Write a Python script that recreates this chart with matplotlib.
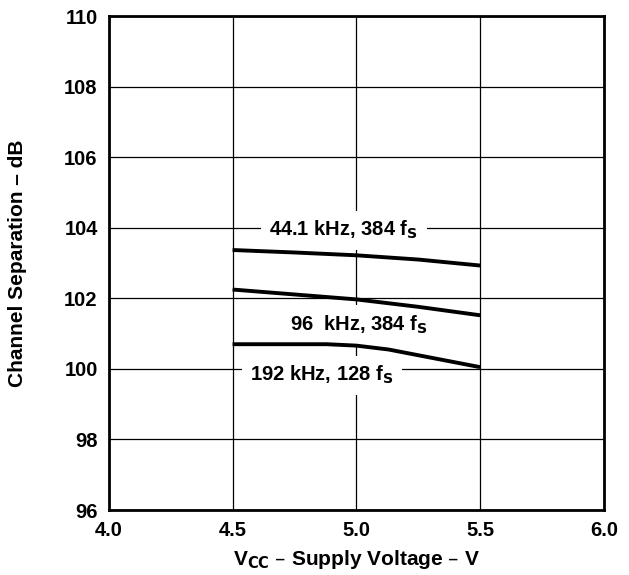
import matplotlib
matplotlib.use('Agg')
import matplotlib.pyplot as plt

# === Data ===
vcc = [4.5, 4.75, 5.0, 5.25, 5.5]
sep_44k = [103.37, 103.30, 103.22, 103.10, 102.93]
sep_96k = [102.25, 102.11, 101.97, 101.76, 101.52]
vcc_192 = [4.5, 4.88, 5.0, 5.13, 5.5]
sep_192k = [100.70, 100.70, 100.66, 100.55, 100.05]

x_ticks = [4.0, 4.5, 5.0, 5.5, 6.0]
y_ticks = [96, 98, 100, 102, 104, 106, 108, 110]

plt.rcParams['font.family'] = ['Liberation Sans', 'DejaVu Sans']
plt.rcParams['font.weight'] = 'bold'

fig = plt.figure(figsize=(6.29, 5.75), dpi=100)
ax = fig.add_axes([0.173, 0.113, 0.787, 0.859])

# curves above the label boxes, label boxes above the grid
ax.plot(vcc, sep_44k, color='black', lw=2.8, solid_capstyle='butt', zorder=3)
ax.plot(vcc, sep_96k, color='black', lw=2.8, solid_capstyle='butt', zorder=3)
ax.plot(vcc_192, sep_192k, color='black', lw=2.8, solid_capstyle='butt', zorder=3)

box = dict(facecolor='white', edgecolor='none', pad=6)
fs = 14.5
ax.text(4.95, 103.93, '44.1 kHz, 384 f$_\\mathbf{S}$', ha='center', va='center',
        fontsize=fs, fontweight='bold', bbox=box, zorder=2)
ax.text(5.01, 101.25, '96  kHz, 384 f$_\\mathbf{S}$', ha='center', va='center',
        fontsize=fs, fontweight='bold', bbox=box, zorder=2)
ax.text(4.86, 99.82, '192 kHz, 128 f$_\\mathbf{S}$', ha='center', va='center',
        fontsize=fs, fontweight='bold', bbox=box, zorder=2)

ax.set_xlim(4.0, 6.0)
ax.set_ylim(96, 110)
ax.set_xticks(x_ticks)
ax.set_xticklabels(['%.1f' % v for v in x_ticks])
ax.set_yticks(y_ticks)
ax.grid(True, color='black', lw=0.9)
ax.tick_params(length=0, labelsize=fs)
ax.tick_params(axis='x', pad=8)
ax.tick_params(axis='y', pad=8)
for s in ax.spines.values():
    s.set_linewidth(2)

ax.set_xlabel('V$_\\mathbf{CC}$ – Supply Voltage – V', fontsize=15, fontweight='bold', labelpad=6)
ax.set_ylabel('Channel Separation – dB', fontsize=15, fontweight='bold', labelpad=27)

fig.savefig('out.png', dpi=100)
